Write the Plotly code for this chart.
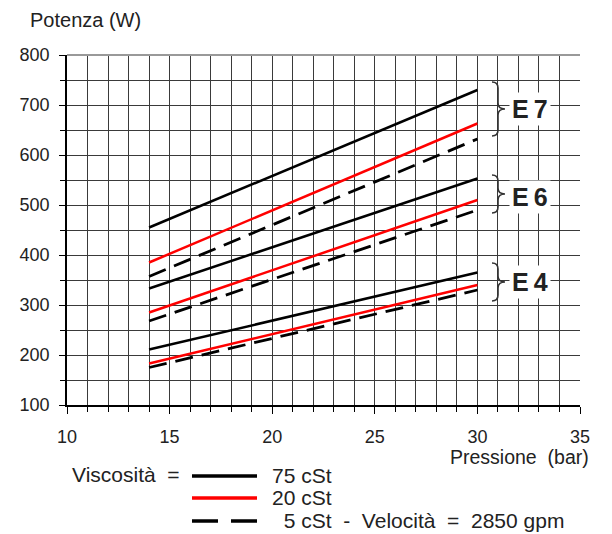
import plotly.graph_objects as go

# ---- data ----
pressure = [14, 30]
series = {
    "E7_75": [455, 730],
    "E7_20": [385, 663],
    "E7_5": [357, 632],
    "E6_75": [333, 553],
    "E6_20": [285, 510],
    "E6_5": [268, 490],
    "E4_75": [211, 365],
    "E4_20": [183, 340],
    "E4_5": [175, 330],
}
groups = ["E7", "E6", "E4"]
x_ticks = [10, 15, 20, 25, 30, 35]
y_ticks = [100, 200, 300, 400, 500, 600, 700, 800]

W, H = 612, 534
L, R, T, B = 67, 580, 55, 405


def px(x):
    return (x - L) / (R - L)


def py(y):
    return (B - y) / (B - T)


styles = {
    "75": dict(color="black", width=2.5, dash="solid"),
    "20": dict(color="#ff0000", width=2.5, dash="solid"),
    "5": dict(color="black", width=2.8, dash="18px,9px"),
}

fig = go.Figure()
for name, vals in series.items():
    visc = name.split("_")[1]
    fig.add_trace(go.Scatter(x=pressure, y=vals, mode="lines", line=styles[visc],
                             showlegend=False, hoverinfo="skip"))

font = "Liberation Sans, Arial, sans-serif"
tcol = "#222"
shapes = []
annotations = []


def note(text, x, y, xanchor="left", size=18, **kw):
    annotations.append(dict(text=text, x=px(x), y=py(y), xref="paper", yref="paper",
                            showarrow=False, xanchor=xanchor, yanchor="middle",
                            font=dict(family=font, size=size, color=tcol), **kw))


# braces and group labels (pixel positions)
brace_pos = {"E7": (82, 136, 109), "E6": (175, 213, 197), "E4": (263, 301, 282)}
for g in groups:
    y0, y1, yl = brace_pos[g]
    xa, xm, xt = 492, 498, 505
    ym = (y0 + y1) / 2
    r = 6
    path = (f"M {px(xa)},{py(y0)} "
            f"Q {px(xm)},{py(y0)} {px(xm)},{py(y0 + r)} "
            f"L {px(xm)},{py(ym - r)} "
            f"Q {px(xm)},{py(ym)} {px(xt)},{py(ym)} "
            f"Q {px(xm)},{py(ym)} {px(xm)},{py(ym + r)} "
            f"L {px(xm)},{py(y1 - r)} "
            f"Q {px(xm)},{py(y1)} {px(xa)},{py(y1)}")
    shapes.append(dict(type="path", path=path, xref="paper", yref="paper",
                       line=dict(color="#333", width=1.6)))
    note("<b>" + g[0] + "\u2009" + g[1] + "</b>", 530, yl, xanchor="center", size=25,
         bgcolor="white", borderpad=2)

# axis titles
note("Potenza (W)", 28, 20, size=20)
note("Pressione  (bar)", 591, 457, xanchor="right", size=19.5)

# custom legend
note("Viscosità  =", 70, 474, size=21)
leg = [("75", "75 cSt", 476, 270),
       ("20", "20 cSt", 498, 270),
       ("5", "  5 cSt  -  Velocità  =  2850 gpm", 521, 270)]
for key, label, yy, xt in leg:
    st = styles[key]
    shapes.append(dict(type="line", xref="paper", yref="paper", x0=px(192), x1=px(257),
                       y0=py(yy), y1=py(yy),
                       line=dict(color=st["color"], width=3.5,
                                 dash="26px,13px" if key == "5" else "solid")))
    note(label.replace(" ", "\u00a0"), xt, yy - 1, size=21)

grid_col = "#3a3a3a"
fig.update_layout(
    width=W, height=H,
    margin=dict(l=L, r=W - R, t=T, b=H - B),
    paper_bgcolor="white", plot_bgcolor="white",
    shapes=shapes, annotations=annotations,
    xaxis=dict(range=[10, 35], tickvals=x_ticks, ticktext=[str(v) for v in x_ticks],
               showgrid=True, gridcolor=grid_col, gridwidth=1,
               minor=dict(dtick=1, showgrid=True, gridcolor=grid_col, gridwidth=1,
                          ticks="outside", ticklen=5, tickcolor="black"),
               ticks="outside", ticklen=7, tickcolor="black",
               showline=True, linecolor="black", linewidth=1.5, mirror=False,
               zeroline=False, ticklabelstandoff=8,
               tickfont=dict(family=font, size=18, color=tcol)),
    yaxis=dict(range=[100, 800], tickvals=y_ticks, ticktext=[str(v) for v in y_ticks],
               showgrid=True, gridcolor=grid_col, gridwidth=1,
               minor=dict(dtick=50, showgrid=True, gridcolor=grid_col, gridwidth=1,
                          ticks="outside", ticklen=5, tickcolor="black"),
               ticks="outside", ticklen=6, tickcolor="black",
               showline=True, linecolor="black", linewidth=1.5, mirror=False,
               zeroline=False, ticklabelstandoff=6,
               tickfont=dict(family=font, size=18, color=tcol)),
)
fig.add_shape(type="line", xref="paper", yref="paper", x0=0, x1=1, y0=1, y1=1,
              line=dict(color="#999", width=2))

fig.write_html("out.html", config={"displayModeBar": False},
               post_script="document.body.style.margin='0';")
